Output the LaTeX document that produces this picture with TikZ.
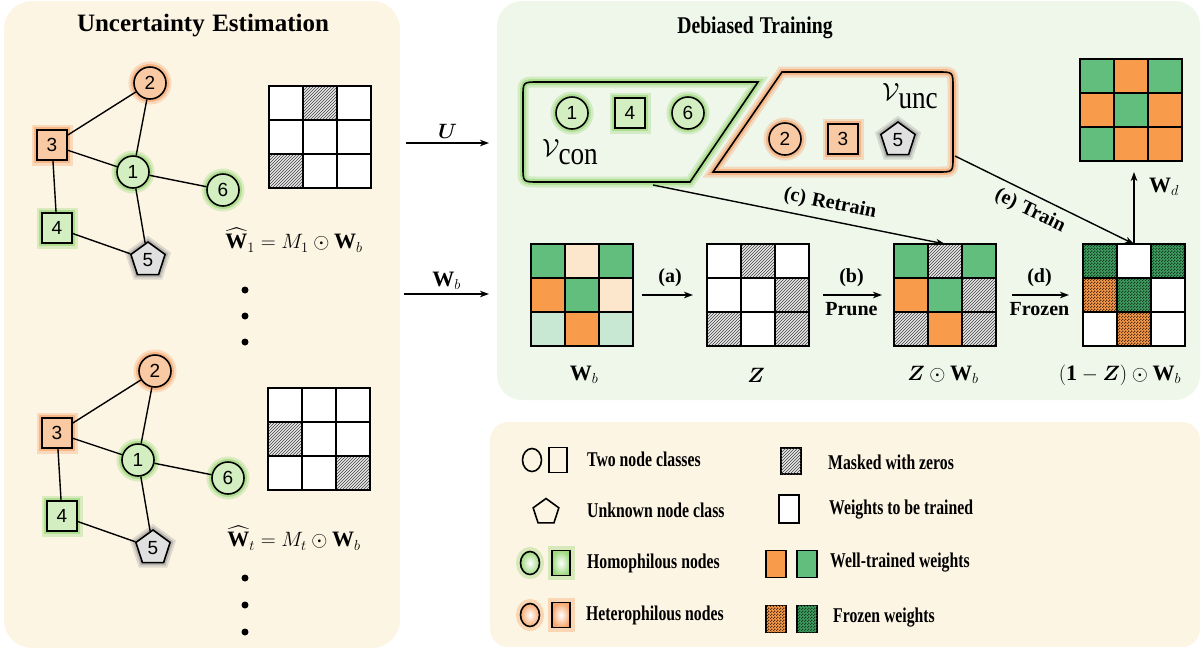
\documentclass[tikz,border=0pt]{standalone}
\usepackage{amsmath}
\usepackage{bm}
\usepackage{graphicx}
\usepackage{fontspec}
\setmainfont{Liberation Serif}
\newfontfamily\numfont{Liberation Sans}
\usetikzlibrary{shapes.geometric,patterns,arrows.meta,calc}
\pgfdeclarepatternformonly{finecheck}{\pgfpointorigin}{\pgfqpoint{2.6pt}{2.6pt}}{\pgfqpoint{2.6pt}{2.6pt}}{%
  \pgfpathrectangle{\pgfpointorigin}{\pgfqpoint{1.3pt}{1.3pt}}%
  \pgfpathrectangle{\pgfqpoint{1.3pt}{1.3pt}}{\pgfqpoint{1.3pt}{1.3pt}}%
  \pgfusepath{fill}}
\definecolor{bgL}{HTML}{FDF5E4}
\definecolor{bgR}{HTML}{EFF6EA}
\definecolor{cgreen}{HTML}{62BE7C}
\definecolor{corange}{HTML}{F89C4B}
\definecolor{cpeach}{HTML}{FCE6CC}
\definecolor{clgreen}{HTML}{C8E8D3}
\definecolor{glowG}{HTML}{9ED97E}
\definecolor{glowO}{HTML}{F6A870}
\definecolor{glowK}{HTML}{9A9A9A}
\definecolor{fillG}{HTML}{D3EFC2}
\definecolor{fillO}{HTML}{F9C9A3}
\definecolor{fillP}{HTML}{E0E0E0}
\definecolor{fzG}{HTML}{173F26}
\definecolor{fzO}{HTML}{5A2E0E}
\definecolor{fzGb}{HTML}{3F9E60}

\tikzset{
 gnode/.style={draw, line width=1.6pt, inner sep=0pt, font=\numfont\fontsize{19}{19}\selectfont},
 circ/.style={gnode, circle, minimum size=32pt},
 sqr/.style={gnode, rectangle, minimum size=30pt},
 pent/.style={gnode, regular polygon, regular polygon sides=5, minimum size=36pt},
 glG/.style={preaction={draw=glowG, line width=11pt, draw opacity=0.35}, preaction={draw=glowG, line width=6pt, draw opacity=0.7}},
 glO/.style={preaction={draw=glowO, line width=11pt, draw opacity=0.35}, preaction={draw=glowO, line width=6pt, draw opacity=0.7}},
 glK/.style={preaction={draw=glowK, line width=10pt, draw opacity=0.3}, preaction={draw=glowK, line width=5.5pt, draw opacity=0.55}},
 hetc/.style={circ, fill=fillO, glO},
 hets/.style={sqr, fill=fillO, glO},
 homc/.style={circ, fill=fillG, glG},
 homs/.style={sqr, fill=fillG, glG},
 unk/.style={pent, fill=fillP, glK},
 glink/.style={line width=1.4pt},
 matbox/.style={minimum size=102pt, inner sep=0pt, outer sep=0pt},
 gridln/.style={line width=2pt, black},
 cW/.style={fill=white},
 cG/.style={fill=cgreen},
 cO/.style={fill=corange},
 cP/.style={fill=cpeach},
 cL/.style={fill=clgreen},
 cH/.style={fill=gray!18, postaction={pattern=north east lines, pattern color=black!75}},
 cFG/.style={fill=fzGb, postaction={pattern=finecheck, pattern color=fzG}},
 cFO/.style={fill=corange, postaction={pattern=finecheck, pattern color=fzO}},
 arr/.style={line width=1.4pt, -{Stealth[length=9pt, width=6.5pt, inset=2.5pt]}},
 lbl/.style={font=\fontsize{20}{24}\selectfont\bfseries, inner sep=1pt},
 mlbl/.style={font=\fontsize{22}{26}\selectfont, inner sep=1pt},
 legtxt/.style={anchor=west, font=\fontsize{21}{24}\selectfont\bfseries, inner sep=0pt},
 leg/.style={draw, line width=1.6pt, inner sep=0pt},
}

\newcommand{\gridmat}[3]{%
  \node[matbox] (#1) at (#2) {};
  \foreach \cs [count=\ci from 0] in {#3} {%
    \pgfmathtruncatemacro{\rr}{\ci/3}%
    \pgfmathtruncatemacro{\cc}{\ci-3*\rr}%
    \edef\tmpcmd{\noexpand\path[\cs]}%
    \tmpcmd ($(#1.north west)+(\cc*34,\rr*34)$) rectangle +(34,34);%
  }%
  \foreach \k in {1,2} {%
    \draw[gridln] ($(#1.north west)+(\k*34,0)$) -- +(0,102);%
    \draw[gridln] ($(#1.north west)+(0,\k*34)$) -- +(102,0);%
  }%
  \draw[gridln] (#1.north west) rectangle (#1.south east);%
}

\newcommand{\graphG}[2]{%
  \begin{scope}[shift={(#2)}]
    \node[hetc] (#1n2) at (150,83) {2};
    \node[hets] (#1n3) at (52,145) {3};
    \node[homc] (#1n1) at (133,172) {1};
    \node[homc] (#1n6) at (223,190) {6};
    \node[homs] (#1n4) at (57,228) {4};
    \node[unk] (#1n5) at (148,260) {5};
    \draw[glink] (#1n2) -- (#1n3);
    \draw[glink] (#1n2) -- (#1n1);
    \draw[glink] (#1n3) -- (#1n1);
    \draw[glink] (#1n3) -- (#1n4);
    \draw[glink] (#1n1) -- (#1n6);
    \draw[glink] (#1n1) -- (#1n5);
    \draw[glink] (#1n4) -- (#1n5);
  \end{scope}%
}

\newcommand{\vset}[1]{{\fontsize{34}{34}\selectfont$\mathcal{V}$}\kern-1pt\raisebox{-8pt}{\rmfamily\mdseries\fontsize{32}{32}\selectfont\scalebox{0.85}[1]{#1}}}
\newcommand{\lgt}[1]{\scalebox{0.75}[1]{#1}}

\begin{document}
\begin{tikzpicture}[x=1pt,y=-1pt]
\useasboundingbox (0,0) rectangle (1203,649);

% panels
\fill[bgL, rounded corners=28pt] (4,1) rectangle (400,648);
\fill[bgR, rounded corners=25pt] (497,1) rectangle (1200,400);
\fill[bgL, rounded corners=18pt] (490,422) rectangle (1200,647);

% titles
\node[font=\fontsize{25}{30}\selectfont\bfseries] (t1) at (203,26) {Uncertainty\hspace{0.3em}Estimation};
\node[font=\fontsize{24}{28}\selectfont\bfseries] (t2) at (755,28) {\scalebox{0.82}[1]{Debiased\hspace{0.3em}Training}};

% left graphs
\graphG{a}{0,0}
\graphG{b}{5,288}

\gridmat{mA}{320,137}{cW,cH,cW,cW,cW,cW,cH,cW,cW}
\gridmat{mB}{319,439}{cW,cW,cW,cH,cW,cW,cW,cW,cH}

\node[mlbl] (fA) at (294,240) {$\widehat{\mathbf{W}}_1 = M_1\odot\mathbf{W}_b$};
\node[mlbl] (fB) at (294,538) {$\widehat{\mathbf{W}}_t = M_t\odot\mathbf{W}_b$};

\foreach \yy in {290,316,342,578,605,632} \fill (245,\yy) circle (3.5);

% arrows between panels
\coordinate (uS) at (406,143);
\coordinate (uE) at (489,143);
\coordinate (wS) at (404,294);
\coordinate (wE) at (489,294);
\draw[arr] (uS) -- node[mlbl, above=3pt] (lU) {$\bm{U}$} (uE);
\draw[arr] (wS) -- node[mlbl, above=3pt] (lW) {$\mathbf{W}_b$} (wE);

% V_con set
\draw[line width=1.6pt, preaction={draw=glowG, line width=11pt, draw opacity=0.35}, preaction={draw=glowG, line width=6pt, draw opacity=0.7}]
  (758,82) -- (538,82) .. controls (523,82) .. (523,97) -- (523,167) .. controls (523,182) .. (538,182) -- (690,182) -- cycle;
\node[homc] (c1) at (572,113) {1};
\node[homs] (c4) at (630,113) {4};
\node[homc] (c6) at (688,113) {6};
\node[inner sep=0pt] (vcon) at (570,152) {\vset{con}};

% V_unc set
\draw[line width=1.6pt, preaction={draw=glowO, line width=11pt, draw opacity=0.35}, preaction={draw=glowO, line width=6pt, draw opacity=0.7}]
  (782,72) -- (938,72) .. controls (953,72) .. (953,87) -- (953,157) .. controls (953,172) .. (938,172) -- (713,172) -- cycle;
\node[hetc] (u2) at (785,139) {2};
\node[hets] (u3) at (843,139) {3};
\node[unk] (u5) at (898,140) {5};
\node[inner sep=0pt] (vunc) at (910,96) {\vset{unc}};

% right matrices
\gridmat{mWb}{582,295}{cG,cP,cG,cO,cG,cP,cL,cO,cL}
\gridmat{mZ}{758,295}{cW,cH,cW,cW,cW,cH,cH,cW,cH}
\gridmat{mZW}{945,295}{cG,cH,cG,cO,cG,cH,cH,cO,cH}
\gridmat{mF}{1134,295}{cFG,cW,cFG,cFO,cFG,cW,cW,cFO,cW}
\gridmat{mWd}{1131,110}{cG,cO,cG,cO,cG,cO,cG,cO,cO}

\node[mlbl] (lWb) at (584,375) {$\mathbf{W}_b$};
\node[mlbl] (lZ) at (756,375) {$\bm{Z}$};
\node[mlbl] (lZW) at (943,375) {$\bm{Z}\odot\mathbf{W}_b$};
\node[mlbl] (lF) at (1120,375) {$(\mathbf{1}-\bm{Z})\odot\mathbf{W}_b$};
\node[mlbl] (lWd) at (1164,187) {$\mathbf{W}_d$};

\draw[arr, shorten <=9pt, shorten >=14pt] (mWb.east) -- node[lbl, above=7pt] (la) {(a)} (mZ.west);
\draw[arr, shorten <=14pt, shorten >=12pt] (mZ.east) -- node[lbl, above=7pt] (lb) {(b)} node[lbl, below=6pt] (lpr) {Prune} (mZW.west);
\draw[arr, shorten <=16pt, shorten >=14pt] (mZW.east) -- node[lbl, above=7pt] (ld) {(d)} node[lbl, below=6pt] (lfr) {Frozen} (mF.west);
\draw[arr, shorten >=11pt] (mF.north) -- (mF.north |- mWd.south);

\coordinate (conS) at (653,185);
\coordinate (uncR) at (955,156);
\draw[arr] (conS) -- (mZW.north);
\draw[arr] (uncR) -- (mF.north);
\node[lbl, rotate=-11.3] (lc) at (830,204) {(c)\hspace{0.3em}Retrain};
\node[lbl, rotate=-26] (le) at (1030,211) {(e)\hspace{0.3em}Train};

% legend
\node[leg, ellipse, minimum width=19pt, minimum height=23pt] (k1) at (532,460) {};
\node[leg, rectangle, minimum width=18pt, minimum height=25pt] (k2) at (558,460) {};
\node[leg, regular polygon, regular polygon sides=5, minimum size=27pt] (k3) at (546,512) {};
\node[leg, ellipse, minimum width=19pt, minimum height=23pt, inner color=white, outer color=glowG, preaction={draw=glowG, line width=9pt, draw opacity=0.4}] (k4) at (530,563) {};
\node[leg, rectangle, minimum width=18pt, minimum height=25pt, inner color=white, outer color=glowG, preaction={draw=glowG, line width=9pt, draw opacity=0.4}] (k5) at (561,563) {};
\node[leg, ellipse, minimum width=19pt, minimum height=23pt, inner color=white, outer color=glowO, preaction={draw=glowO, line width=9pt, draw opacity=0.4}] (k6) at (530,615) {};
\node[leg, rectangle, minimum width=18pt, minimum height=25pt, inner color=white, outer color=glowO, preaction={draw=glowO, line width=9pt, draw opacity=0.4}] (k7) at (561,615) {};

\node[legtxt] (t1l) at (587,459) {\lgt{Two node classes}};
\node[legtxt] (t2l) at (587,510) {\lgt{Unknown node class}};
\node[legtxt] (t3l) at (587,563) {\lgt{Homophilous nodes}};
\node[legtxt] (t4l) at (586,615) {\lgt{Heterophilous nodes}};

\node[leg, cH, minimum width=20pt, minimum height=26pt] (k8) at (791,461) {};
\node[leg, cW, minimum width=20pt, minimum height=28pt] (k9) at (789,509) {};
\node[leg, cO, minimum width=20pt, minimum height=27pt] (k10) at (776,564) {};
\node[leg, cG, minimum width=20pt, minimum height=27pt] (k11) at (807,564) {};
\node[leg, cFO, minimum width=20pt, minimum height=27pt] (k12) at (776,619) {};
\node[leg, cFG, minimum width=20pt, minimum height=27pt] (k13) at (807,619) {};

\node[legtxt] (t5l) at (828,462) {\lgt{Masked with zeros}};
\node[legtxt] (t6l) at (829,510) {\lgt{Weights to be trained}};
\node[legtxt] (t7l) at (830,563) {\lgt{Well-trained weights}};
\node[legtxt] (t8l) at (833,618) {\lgt{Frozen weights}};
\end{tikzpicture}
\end{document}
